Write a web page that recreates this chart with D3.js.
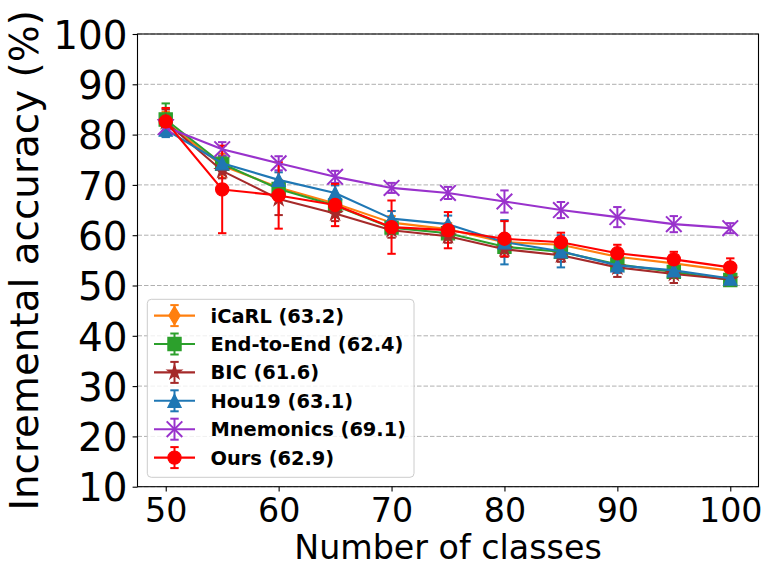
<!DOCTYPE html>
<html><head><meta charset="utf-8">
<script src="https://cdn.jsdelivr.net/npm/d3@7"></script>
<style>body{margin:0;background:#fff}svg{display:block}text{font-family:"DejaVu Sans",sans-serif}</style>
</head><body><svg id="c" width="771" height="578"></svg>
<script>
// ---- data ----
const classes = [50, 55, 60, 65, 70, 75, 80, 85, 90, 95, 100];
const xTicks = [50, 60, 70, 80, 90, 100];
const yTicks = [10, 20, 30, 40, 50, 60, 70, 80, 90, 100];
const seriesNames = ["iCaRL (63.2)", "End-to-End (62.4)", "BIC (61.6)", "Hou19 (63.1)", "Mnemonics (69.1)", "Ours (62.9)"];
const icarl      = [82.5, 73.8, 69.5, 66.3, 62.5, 61.2, 58.6, 58.1, 55.7, 54.4, 52.9];
const icarlErr   = [2.0, 2.4, 1.5, 1.3, 1.3, 1.2, 1.2, 1.2, 1.0, 1.0, 1.0];
const e2e        = [83.0, 74.2, 69.2, 65.9, 61.5, 60.4, 57.7, 56.7, 54.2, 52.7, 51.1];
const e2eErr     = [3.2, 1.5, 1.3, 1.2, 1.2, 1.0, 1.0, 1.0, 1.0, 0.8, 0.8];
const bic        = [82.5, 72.8, 67.2, 64.3, 61.0, 59.8, 57.2, 56.0, 53.6, 52.3, 51.2];
const bicErr     = [2.5, 1.5, 3.2, 1.5, 1.5, 1.3, 1.5, 1.3, 1.9, 1.8, 1.0];
const hou19      = [81.0, 74.3, 71.0, 68.4, 63.3, 62.2, 58.6, 56.8, 54.0, 53.0, 51.4];
const hou19Err   = [1.5, 1.5, 1.5, 1.5, 1.5, 1.7, 4.4, 3.2, 1.5, 1.5, 1.0];
const mnemonics  = [81.5, 77.1, 74.3, 71.6, 69.4, 68.4, 66.7, 65.0, 63.6, 62.2, 61.4];
const mnemErr    = [1.5, 1.4, 1.4, 1.2, 1.0, 1.2, 2.2, 1.6, 2.0, 1.6, 1.0];
const ours       = [82.6, 69.1, 67.9, 66.0, 61.6, 61.0, 59.3, 58.6, 56.4, 55.2, 53.6];
const oursErr    = [2.7, 8.7, 6.6, 4.2, 5.3, 3.6, 3.5, 1.9, 1.7, 1.5, 1.8];

// ---- styles ----
const styles = [
  {color: "#ff7f0e", marker: "thin_diamond"},
  {color: "#2ca02c", marker: "square"},
  {color: "#a52a2a", marker: "star"},
  {color: "#1f77b4", marker: "triangle"},
  {color: "#9932cc", marker: "x"},
  {color: "#ff0000", marker: "circle"}
];
const values = [icarl, e2e, bic, hou19, mnemonics, ours];
const errors = [icarlErr, e2eErr, bicErr, hou19Err, mnemErr, oursErr];
const series = seriesNames.map((name, k) => ({
  name, ...styles[k],
  pts: classes.map((c, i) => ({c, v: values[k][i], e: errors[k][i]}))
}));

const svg = d3.select("#c");
const L = 137.5, R = 758.5, T = 34, B = 486.7;
const x = d3.scaleLinear().domain([47.5, 102.5]).range([L, R]);
const y = d3.scaleLinear().domain([10, 100]).range([B, T]);

function markerPath(type) {
  const m = 13.2, h = m / 2;
  switch (type) {
    case "circle": return d3.symbol(d3.symbolCircle, Math.PI * h * h)();
    case "square": return `M${-h},${-h}h${m}v${m}h${-m}Z`;
    case "triangle": return `M0,${-h}L${h},${h}L${-h},${h}Z`;
    case "star": {
      const ro = 7.5, ri = ro * 0.381966; let p = "";
      for (let i = 0; i < 10; i++) {
        const r = i % 2 ? ri : ro, a = -Math.PI / 2 + i * Math.PI / 5;
        p += (i ? "L" : "M") + (r * Math.cos(a)).toFixed(2) + "," + (r * Math.sin(a)).toFixed(2);
      }
      return p + "Z";
    }
    case "thin_diamond": { const hh = 0.707 * m, hw = 0.6 * 0.707 * m; return `M0,${-hh}L${hw},0L0,${hh}L${-hw},0Z`; }
    case "x": { const s = 7.8; return `M${-s},${-s}L${s},${s}M${-s},${s}L${s},${-s}`; }
  }
}
function drawMarker(g, s, cx, cy) {
  const p = g.append("path").attr("d", markerPath(s.marker)).attr("transform", `translate(${cx},${cy})`);
  if (s.marker === "x") p.attr("fill", "none").attr("stroke", s.color).attr("stroke-width", 2);
  else p.attr("fill", s.color).attr("stroke", s.color).attr("stroke-width", 1.2);
}

// grid
svg.append("g").selectAll("line").data(yTicks).join("line")
  .attr("x1", L).attr("x2", R).attr("y1", d => y(d)).attr("y2", d => y(d))
  .attr("stroke", "#b0b0b0").attr("stroke-width", 1).attr("stroke-dasharray", "4.5,2");

// axes
const xAxis = svg.append("g").attr("transform", `translate(0,${B})`)
  .call(d3.axisBottom(x).tickValues(xTicks).tickSize(4.9).tickSizeOuter(0).tickPadding(7.2).tickFormat(d3.format("d")));
xAxis.selectAll("text").attr("font-size", "33.3px").attr("fill", "#000").attr("font-family", "DejaVu Sans");
const yAxis = svg.append("g").attr("transform", `translate(${L},0)`)
  .call(d3.axisLeft(y).tickValues(yTicks).tickSize(4.9).tickSizeOuter(0).tickPadding(5.1).tickFormat(d3.format("d")));
yAxis.selectAll("text").attr("font-size", "38.9px").attr("dy", "0.365em").attr("fill", "#000").attr("font-family", "DejaVu Sans");
svg.selectAll(".domain").remove();
svg.selectAll(".tick line").attr("stroke", "#000").attr("stroke-width", 1.1);

// error bars (below all lines)
const eb = svg.append("g");
series.forEach(s => {
  s.pts.forEach(p => {
    const cx = x(p.c), y1 = y(p.v - p.e), y2 = y(p.v + p.e);
    eb.append("line").attr("x1", cx).attr("x2", cx).attr("y1", y1).attr("y2", y2).attr("stroke", s.color).attr("stroke-width", 2);
    [y1, y2].forEach(yy => eb.append("line").attr("x1", cx - 4.2).attr("x2", cx + 4.2).attr("y1", yy).attr("y2", yy).attr("stroke", s.color).attr("stroke-width", 2));
  });
});

// lines + markers
const line = d3.line().x(d => x(d.c)).y(d => y(d.v));
series.forEach(s => {
  const g = svg.append("g");
  g.append("path").datum(s.pts).attr("d", line).attr("fill", "none").attr("stroke", s.color).attr("stroke-width", 2.1).attr("stroke-linejoin", "round");
  s.pts.forEach(p => drawMarker(g, s, x(p.c), y(p.v)));
});

// frame
svg.append("rect").attr("x", L).attr("y", T).attr("width", R - L).attr("height", B - T)
  .attr("fill", "none").attr("stroke", "#000").attr("stroke-width", 1.1);

// axis labels
svg.append("text").attr("x", (L + R) / 2).attr("y", 559).attr("text-anchor", "middle")
  .attr("font-size", "33.3px").text("Number of classes");
svg.append("text").attr("transform", `translate(38,${(T + B) / 2}) rotate(-90)`).attr("text-anchor", "middle")
  .attr("font-size", "38.9px").text("Incremental accuracy (%)");

// legend
const lg = svg.append("g");
lg.append("rect").attr("x", 147.3).attr("y", 299.3).attr("width", 266.7).attr("height", 178).attr("rx", 4)
  .attr("fill", "#fff").attr("fill-opacity", 0.8).attr("stroke", "#cccccc").attr("stroke-width", 1);
series.forEach((s, k) => {
  const cy = 315.6 + k * 28.4, hx = 174.5;
  lg.append("line").attr("x1", 154).attr("x2", 195).attr("y1", cy).attr("y2", cy).attr("stroke", s.color).attr("stroke-width", 2.1);
  lg.append("line").attr("x1", hx).attr("x2", hx).attr("y1", cy - 10.5).attr("y2", cy + 10.5).attr("stroke", s.color).attr("stroke-width", 2);
  [cy - 10.5, cy + 10.5].forEach(yy => lg.append("line").attr("x1", hx - 4.2).attr("x2", hx + 4.2).attr("y1", yy).attr("y2", yy).attr("stroke", s.color).attr("stroke-width", 2));
  drawMarker(lg, s, hx, cy);
  lg.append("text").attr("x", 210.5).attr("y", cy + 7).attr("font-size", "19.4px").attr("font-weight", "bold").text(s.name);
});
</script></body></html>
